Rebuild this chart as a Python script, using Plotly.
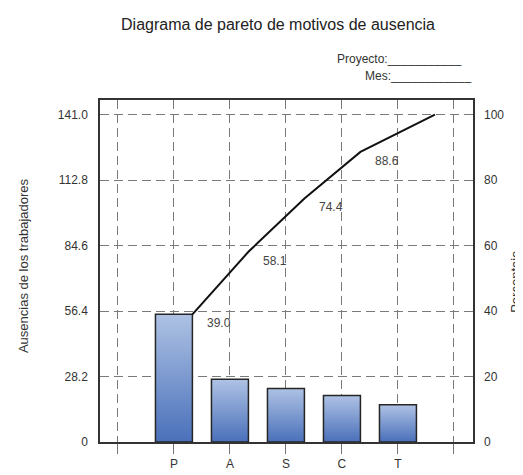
import plotly.graph_objects as go

# ---- data ----
categories = ["P", "A", "S", "C", "T"]
ausencias = [55, 27, 23, 20, 16]
cum_pct = [39.0, 58.1, 74.4, 88.6, 100.0]
cum_labels = ["39.0", "58.1", "74.4", "88.6", ""]
left_ticks = [0, 28.2, 56.4, 84.6, 112.8, 141.0]
left_ticktext = ["0", "28.2", "56.4", "84.6", "112.8", "141.0"]
right_ticks = [0, 20, 40, 60, 80, 100]
right_ticktext = ["0", "20", "40", "60", "80", "100"]

FONT = "Liberation Sans, Arial, sans-serif"
positions = list(range(1, len(categories) + 1))
half = 0.33
line_offsets = [half, half, half, half, 2 * half]

fig = go.Figure()

# gradient bars drawn as filled polygons
for pos, v in zip(positions, ausencias):
    fig.add_trace(go.Scatter(
        x=[pos - half, pos - half, pos + half, pos + half, pos - half],
        y=[0, v, v, 0, 0],
        mode="lines",
        fill="toself",
        fillgradient=dict(type="vertical",
                          colorscale=[[0, "#4a70ba"], [1, "#aec2e4"]]),
        line=dict(color="#262626", width=1.5),
        showlegend=False,
        hoverinfo="skip",
    ))

# cumulative line on the percentage axis
line_x = [p + o for p, o in zip(positions, line_offsets)]
fig.add_trace(go.Scatter(
    x=line_x, y=cum_pct, mode="lines",
    line=dict(color="#111111", width=2),
    yaxis="y2", showlegend=False, hoverinfo="skip",
))

annotations = []
for x, y, t in zip(line_x, cum_pct, cum_labels):
    if t:
        annotations.append(dict(
            x=x, y=y, xref="x", yref="y2", text=t, showarrow=False,
            xshift=27, yshift=-9, font=dict(family=FONT, size=12, color="#444"),
        ))

annotations += [
    dict(xref="paper", yref="paper", x=1 - 10 / 373, y=(440 - 50) / 348,
         xanchor="right", yanchor="middle", showarrow=False,
         text="Proyecto:___________", font=dict(family=FONT, size=12, color="#333")),
    dict(xref="paper", yref="paper", x=1.0, y=(440 - 68) / 348,
         xanchor="right", yanchor="middle", showarrow=False,
         text="Mes:____________", font=dict(family=FONT, size=12, color="#333")),
    dict(xref="paper", yref="paper", x=(15 - 92) / 373, y=(440 - 261) / 348,
         xanchor="center", yanchor="middle", showarrow=False, textangle=-90,
         text="Ausencias de los trabajadores", font=dict(family=FONT, size=13, color="#333")),
    dict(xref="paper", yref="paper", x=(508 - 92) / 373, y=(440 - 277) / 348,
         xanchor="center", yanchor="middle", showarrow=False, textangle=-90,
         text="Porcentaje", font=dict(family=FONT, size=13, color="#333")),
]

grid = dict(showgrid=True, gridcolor="#7a7a7a", gridwidth=1.3, griddash="9px,5px")

fig.update_layout(
    width=523, height=475,
    margin=dict(l=92, r=58, t=92, b=35),
    paper_bgcolor="white", plot_bgcolor="white",
    title=dict(text="Diagrama de pareto de motivos de ausencia",
               x=270 / 523, xanchor="center", y=1 - 16 / 475, yanchor="middle",
               font=dict(family=FONT, size=16, color="#222")),
    xaxis=dict(range=[-0.32, 6.34], tickmode="array",
               tickvals=[0] + positions + [len(categories) + 1],
               ticktext=[""] + categories + [""],
               ticks="outside", ticklen=10, tickcolor="#777", tickwidth=1.3,
               showline=True, linecolor="#333", linewidth=1.5, mirror=True,
               zeroline=False, tickfont=dict(family=FONT, size=12, color="#333"),
               **grid),
    yaxis=dict(range=[0, 147.3], tickmode="array", tickvals=left_ticks,
               ticktext=left_ticktext, ticks="", showline=True, linecolor="#333",
               linewidth=1.5, mirror=True, zeroline=False, ticklabelstandoff=8,
               tickfont=dict(family=FONT, size=12, color="#333"), **grid),
    yaxis2=dict(range=[0, 147.3 * 100 / 141], overlaying="y", side="right",
                tickmode="array", tickvals=right_ticks, ticktext=right_ticktext,
                showgrid=False, zeroline=False, showline=False, ticklabelstandoff=10,
                tickfont=dict(family=FONT, size=12, color="#333")),
    annotations=annotations,
)

fig.write_html("out.html")
